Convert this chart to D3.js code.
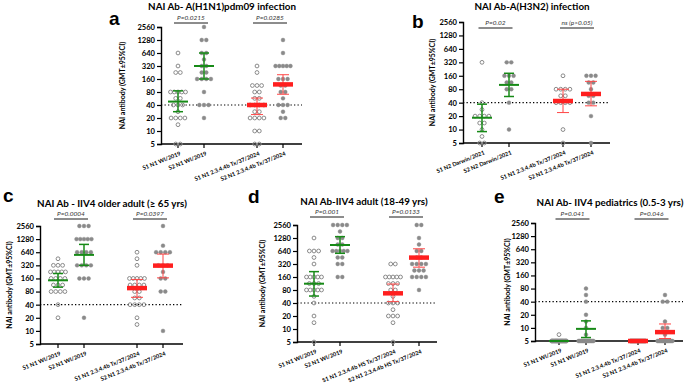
<!DOCTYPE html>
<html>
<head>
<meta charset="utf-8">
<script src="https://cdn.jsdelivr.net/npm/d3@7"></script>
<style>
  body { margin: 0; background: #fff; }
  text { font-family: Lato, "Open Sans", sans-serif; }
</style>
</head>
<body>
<svg id="fig" width="685" height="388"></svg>
<script>
// titer ticks on the log2 axis, and the seroprotection cut-off
const TICKS = [5, 10, 20, 40, 80, 160, 320, 640, 1280, 2560];
const CUTOFF = 40;

// panel a - A(H1N1)pdm09 infection
const aLabels = ["S1 N1 WI/2019", "S2 N1 WI/2019", "S1 N1 2.3.4.4b Tx/37/2024", "S2 N1 2.3.4.4b Tx/37/2024"];
const aPoints = [
  [640, 320, 226, 226, 80, 80, 80, 80, 80, 57, 57, 40, 40, 40, 28, 20, 20, 20, 20, 14, 5, 5],
  [2560, 1280, 1280, 640, 640, 453, 320, 320, 226, 226, 160, 160, 160, 160, 80, 40, 40, 40, 20],
  [320, 226, 113, 113, 113, 80, 80, 57, 57, 40, 40, 40, 40, 28, 28, 20, 20, 20, 20, 10, 10, 5, 5],
  [1280, 640, 320, 320, 320, 320, 320, 160, 160, 160, 113, 113, 80, 80, 57, 40, 40, 40, 28, 20, 20]
];
const aGmt = [[48, 28, 85], [320, 160, 640], [40, 24, 58], [120, 71, 201]]; // [gmt, lo, hi]
const aP = ["P=0.0215", "P=0.0285"];

// panel b - A(H3N2) infection
const bLabels = ["S1 N2 Darwin/2021", "S2 N2 Darwin/2021", "S1 N1 2.3.4.4b Tx/37/2024", "S2 N1 2.3.4.4b Tx/37/2024"];
const bPoints = [
  [320, 40, 28, 20, 20, 20, 20, 14, 14, 10, 7, 5, 5],
  [320, 320, 160, 160, 160, 113, 113, 80, 80, 40, 10],
  [160, 80, 80, 80, 80, 57, 57, 40, 40, 40, 40, 10, 5],
  [160, 160, 160, 113, 113, 80, 57, 57, 40, 40, 20, 5]
];
const bGmt = [[18.4, 9, 37], [100, 55, 182], [43.6, 24, 80], [62.7, 34, 120]];
const bP = ["P=0.02", "ns  (p>0.05)"];

// panel c - IIV4 older adult
const cLabels = ["S1 N1 WI/2019", "S2 N1 WI/2019", "S1 N1 2.3.4.4b Tx/37/2024", "S2 N1 2.3.4.4b Tx/37/2024"];
const cPoints = [
  [453, 320, 320, 320, 226, 226, 226, 226, 226, 160, 160, 160, 160, 113, 113, 113, 80, 80, 80, 80, 40, 20],
  [2560, 2560, 2560, 1280, 1280, 1280, 1280, 1280, 640, 640, 640, 640, 320, 320, 320, 320, 160, 160, 160, 20],
  [640, 453, 320, 160, 160, 160, 160, 160, 113, 113, 113, 113, 80, 80, 57, 57, 40, 40, 40, 40, 20, 14],
  [2560, 905, 640, 640, 640, 640, 320, 320, 320, 226, 160, 160, 80, 80, 10]
];
const cGmt = [[145, 101, 208], [556, 320, 968], [96, 59, 152], [315, 165, 580]];
const cP = ["P=0.0004", "P=0.0397"];

// panel d - IIV4 adult
const dLabels = ["S1 N1 WI/2019", "S2 N1 WI/2019", "S1 N1 2.3.4.4b HS Tx/37/2024", "S2 N1 2.3.4.4b HS Tx/37/2024"];
const dPoints = [
  [1280, 640, 640, 640, 453, 320, 160, 160, 160, 160, 160, 113, 113, 113, 80, 80, 80, 80, 80, 57, 40, 20, 14, 5],
  [2560, 2560, 2560, 2560, 1810, 1280, 1280, 905, 905, 640, 640, 640, 640, 640, 453, 453, 320, 320, 160, 160],
  [320, 320, 160, 160, 160, 160, 160, 113, 113, 113, 80, 80, 57, 40, 40, 40, 28, 20, 20, 20, 14, 5],
  [2560, 2560, 1280, 905, 640, 640, 453, 453, 320, 320, 320, 320, 226, 226, 226, 160, 160, 160, 160, 80]
];
const dGmt = [[112, 58, 213], [880, 566, 1375], [67, 43, 110], [450, 270, 720]];
const dP = ["P=0.001", "P=0.0133"];

// panel e - IIV4 pediatrics
const eLabels = ["S1 N1 WI/2019", "S1 N1 WI/2019", "S1 N1 2.3.4.4b Tx/37/2024", "S2 N1 2.3.4.4b Tx/37/2024"];
const ePoints = [
  [7, 5, 5, 5, 5, 5, 5, 5, 5, 5, 5, 5, 5, 5, 5, 5, 5, 5, 5, 5],
  [80, 57, 40, 20, 14, 10, 7, 5, 5, 5, 5, 5, 5, 5, 5, 5, 5, 5, 5, 5, 5],
  [5, 5, 5, 5, 5, 5, 5, 5, 5, 5, 5, 5, 5, 5, 5, 5],
  [57, 40, 40, 14, 10, 10, 7, 5, 5, 5, 5, 5, 5, 5, 5, 5, 5, 5, 5, 5, 5]
];
const eGmt = [[5, 5, 5], [9.5, 6, 14.5], [5, 5, 5], [8, 5.7, 12.3]];
const eP = ["P=0.041", "P=0.046"];

const GREY = "#8a8a8a";
const GREEN = "#178a17";
const RED = "#ff1f1f";
const RED_CI = "#ff4545";

// page layout of each panel
const panels = [
  { letter: "a", lx: 109, ly: 25, title: "NAI Ab- A(H1N1)pdm09 infection", tx: 222, ty: 10,
    x0: 161, x1: 302, yTop: 27, yBot: 144, cats: [178, 204, 257, 283], barY: 23, ytx: 125,
    labels: aLabels, points: aPoints, gmt: aGmt, p: aP },
  { letter: "b", lx: 412, ly: 28, title: "NAI Ab-A(H3N2) infection", tx: 532, ty: 10,
    x0: 463, x1: 610, yTop: 22, yBot: 143, cats: [482, 509, 563, 591], barY: 28, ytx: 435,
    labels: bLabels, points: bPoints, gmt: bGmt, p: bP },
  { letter: "c", lx: 3, ly: 202, title: "NAI Ab - IIV4 older adult (\u2265 65 yrs)", tx: 112, ty: 207,
    x0: 40, x1: 183, yTop: 226, yBot: 344, cats: [58, 84, 137, 163], barY: 219, ytx: 12,
    labels: cLabels, points: cPoints, gmt: cGmt, p: cP },
  { letter: "d", lx: 248, ly: 203, title: "NAI Ab-IIV4 adult (18-49 yrs)", tx: 364, ty: 205,
    x0: 297, x1: 437, yTop: 225, yBot: 342, cats: [314, 340, 393, 419], barY: 217, ytx: 265,
    labels: dLabels, points: dPoints, gmt: dGmt, p: dP },
  { letter: "e", lx: 494, ly: 203, title: "NAI Ab- IIV4 pediatrics (0.5-3 yrs)", tx: 610, ty: 206,
    x0: 535, x1: 683, yTop: 223, yBot: 341, cats: [559, 586, 638, 665], barY: 219, ytx: 510,
    labels: eLabels, points: ePoints, gmt: eGmt, p: eP }
];

// spread equal values sideways, squeezing long rows
function swarm(values) {
  const rows = d3.group(values, v => v);
  const out = [];
  for (const [v, arr] of rows) {
    const n = arr.length;
    const step = n > 1 ? Math.min(4.6, 15 / (n - 1)) : 0;
    arr.forEach((_, i) => out.push({ v: v, dx: (i - (n - 1) / 2) * step }));
  }
  return out;
}

const svg = d3.select("#fig");

panels.forEach(p => {
  const g = svg.append("g");
  const y = d3.scaleLog().base(2).domain([5, 2560]).range([p.yBot, p.yTop]);

  g.append("text")
    .attr("x", p.lx).attr("y", p.ly)
    .style("font-family", "'Liberation Sans', Arial, sans-serif")
    .attr("font-size", 19).attr("font-weight", "bold")
    .text(p.letter);

  g.append("text")
    .attr("x", p.tx).attr("y", p.ty)
    .attr("text-anchor", "middle")
    .attr("font-size", 9.8).attr("font-weight", "bold")
    .text(p.title);

  // y axis
  g.append("g")
    .attr("transform", `translate(${p.x0},0)`)
    .call(d3.axisLeft(y).tickValues(TICKS).tickFormat(d3.format("d")).tickSize(4).tickPadding(2))
    .call(a => a.select(".domain").attr("stroke-width", 1.4))
    .call(a => a.selectAll(".tick line").attr("stroke-width", 1.2))
    .call(a => a.selectAll(".tick text")
      .attr("font-size", 7.6).attr("font-weight", "bold").attr("fill", "#000")
      .style("font-family", "Lato, sans-serif"));

  g.append("text")
    .attr("transform", `translate(${p.ytx},${(p.yTop + p.yBot) / 2}) rotate(-90)`)
    .attr("text-anchor", "middle")
    .attr("font-size", 7).attr("font-weight", "bold")
    .text("NAI antibody (GMT\u00B195%CI)");

  // x axis line and category ticks
  g.append("line")
    .attr("x1", p.x0).attr("x2", p.x1)
    .attr("y1", p.yBot).attr("y2", p.yBot)
    .attr("stroke", "#000").attr("stroke-width", 1.4);

  g.selectAll(".xt")
    .data(p.cats)
    .enter().append("line")
      .attr("x1", d => d).attr("x2", d => d)
      .attr("y1", p.yBot).attr("y2", p.yBot + 4)
      .attr("stroke", "#000").attr("stroke-width", 1.2);

  g.selectAll(".xl")
    .data(p.labels)
    .enter().append("text")
      .attr("transform", (d, i) => `translate(${p.cats[i] + 3},${p.yBot + 11}) rotate(-22)`)
      .attr("text-anchor", "end")
      .attr("font-size", 5.7).attr("font-weight", "bold")
      .text(d => d);

  // dotted 1:40 line
  g.append("line")
    .attr("x1", p.x0).attr("x2", p.x1)
    .attr("y1", y(CUTOFF)).attr("y2", y(CUTOFF))
    .attr("stroke", "#000").attr("stroke-width", 1.1)
    .attr("stroke-dasharray", "1.3,2.2");

  // points
  p.points.forEach((vals, i) => {
    const filled = i % 2 === 1;
    g.selectAll(null)
      .data(swarm(vals))
      .enter().append("circle")
        .attr("cx", d => p.cats[i] + d.dx)
        .attr("cy", d => y(d.v))
        .attr("r", filled ? 1.95 : 1.9)
        .attr("fill", filled ? GREY : "none")
        .attr("stroke", GREY)
        .attr("stroke-width", filled ? 0.4 : 1);
  });

  // GMT with 95% CI
  p.gmt.forEach((m, i) => {
    const cx = p.cats[i];
    const wt = i < 2;
    const col = wt ? GREEN : RED;
    const capW = wt ? 5 : 6;
    const cl = g.append("g").attr("stroke", wt ? GREEN : RED_CI);
    cl.append("line")
      .attr("x1", cx).attr("x2", cx)
      .attr("y1", y(m[1])).attr("y2", y(m[2]))
      .attr("stroke-width", wt ? 1.5 : 1);
    [m[1], m[2]].forEach(v => {
      cl.append("line")
        .attr("x1", cx - capW).attr("x2", cx + capW)
        .attr("y1", y(v)).attr("y2", y(v))
        .attr("stroke-width", wt ? 1.5 : 1);
    });
    g.append("line")
      .attr("x1", cx - 10).attr("x2", cx + 10)
      .attr("y1", y(m[0])).attr("y2", y(m[0]))
      .attr("stroke", col)
      .attr("stroke-width", wt ? 2 : 4.5);
  });

  // significance bars
  [[0, 1], [2, 3]].forEach((pair, k) => {
    const mid = (p.cats[pair[0]] + p.cats[pair[1]]) / 2;
    g.append("line")
      .attr("x1", mid - 17).attr("x2", mid + 17)
      .attr("y1", p.barY).attr("y2", p.barY)
      .attr("stroke", "#000").attr("stroke-width", 0.9);
    g.append("text")
      .attr("x", mid).attr("y", p.barY - 3)
      .attr("text-anchor", "middle")
      .attr("font-size", 6.5).attr("font-style", "italic").attr("fill", "#333")
      .text(p.p[k]);
  });
});
</script>
</body>
</html>
